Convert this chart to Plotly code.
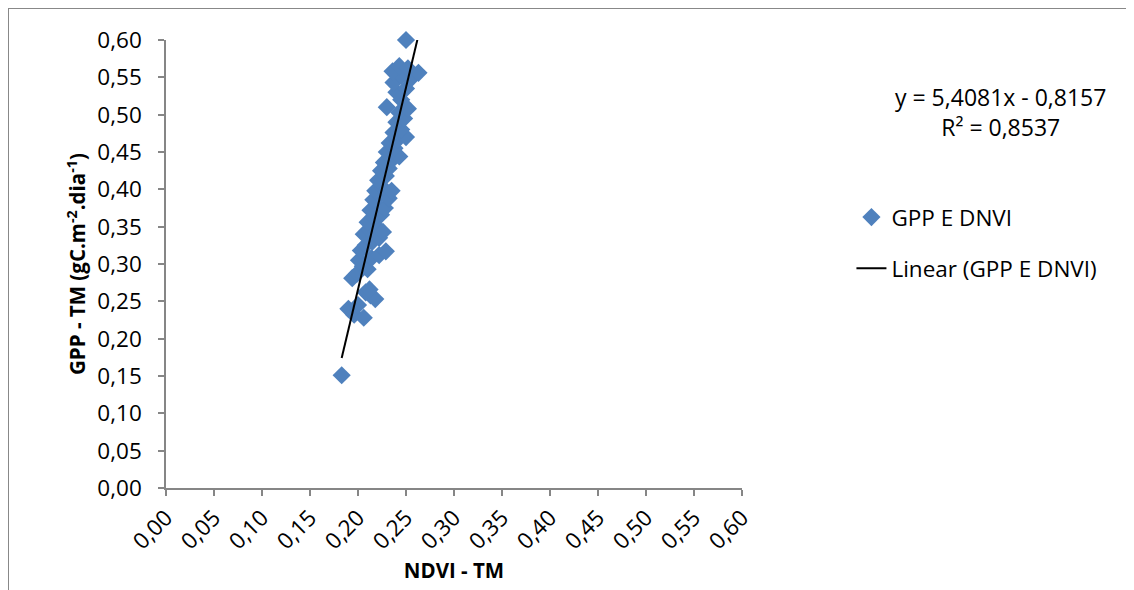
import plotly.graph_objects as go

# ---- data ----
ndvi = [0.183, 0.190, 0.196, 0.206, 0.200, 0.208, 0.213, 0.218, 0.212, 0.194,
        0.199, 0.205, 0.210, 0.201, 0.214, 0.222, 0.229, 0.203, 0.208, 0.215,
        0.222, 0.206, 0.212, 0.219, 0.226, 0.210, 0.217, 0.224, 0.213, 0.220,
        0.228, 0.216, 0.223, 0.232, 0.218, 0.226, 0.235, 0.221, 0.229, 0.224,
        0.232, 0.227, 0.236, 0.243, 0.230, 0.238, 0.233, 0.241, 0.250, 0.237,
        0.245, 0.240, 0.248, 0.243, 0.252, 0.230, 0.245, 0.240, 0.250, 0.237,
        0.255, 0.245, 0.236, 0.243, 0.252, 0.263, 0.250]
gpp = [0.151, 0.240, 0.232, 0.228, 0.245, 0.262, 0.258, 0.253, 0.266, 0.281,
       0.287, 0.297, 0.293, 0.305, 0.308, 0.312, 0.317, 0.318, 0.325, 0.330,
       0.335, 0.340, 0.346, 0.350, 0.343, 0.356, 0.362, 0.366, 0.372, 0.378,
       0.375, 0.386, 0.392, 0.388, 0.398, 0.402, 0.398, 0.412, 0.418, 0.425,
       0.428, 0.436, 0.440, 0.444, 0.450, 0.455, 0.462, 0.466, 0.470, 0.476,
       0.480, 0.490, 0.495, 0.503, 0.508, 0.510, 0.520, 0.530, 0.535, 0.543,
       0.548, 0.552, 0.558, 0.565, 0.562, 0.556, 0.600]
slope = 5.4081
intercept = -0.8157
r2 = 0.8537
tick_vals = [0.00, 0.05, 0.10, 0.15, 0.20, 0.25, 0.30, 0.35, 0.40, 0.45, 0.50, 0.55, 0.60]

series_name = "GPP E DNVI"
trend_name = "Linear (GPP E DNVI)"

# trendline over the data x range
x_line = [min(ndvi), max(ndvi)]
y_line = [slope * v + intercept for v in x_line]

FONT = "Open Sans"
fig = go.Figure()
fig.add_trace(go.Scatter(
    x=ndvi, y=gpp, mode="markers", name=series_name, legendgroup="a",
    marker=dict(symbol="diamond", size=14, color="#4F81BD",
                line=dict(width=0)),
    cliponaxis=False,
))
fig.add_trace(go.Scatter(
    x=x_line, y=y_line, mode="lines", name=trend_name, legendgroup="b",
    line=dict(color="black", width=2), cliponaxis=False,
))

axis_common = dict(
    range=[0, 0.6], tickvals=tick_vals, tickformat=".2f",
    showgrid=False, zeroline=False, showline=True,
    linecolor="#868686", linewidth=1.5,
    ticks="outside", ticklen=6, tickcolor="#868686", tickwidth=1.5,
    tickfont=dict(family=FONT, size=22.5, color="black"),
)

fig.update_layout(
    width=1126, height=582,
    margin=dict(l=158, r=392, t=32, b=102),
    paper_bgcolor="white", plot_bgcolor="white",
    separators=", ",
    font=dict(family=FONT, color="black"),
    xaxis=dict(**axis_common, tickangle=-45,
               title=dict(text="<b>NDVI - TM</b>", font=dict(family=FONT, size=20.5),
                          standoff=8)),
    yaxis=dict(**axis_common, ticklabelstandoff=12,
               title=dict(text="<b>GPP - TM (gC.m<sup>-2</sup>.dia<sup>-1</sup>)</b>",
                          font=dict(family=FONT, size=20.5), standoff=6)),
    showlegend=True,
    legend=dict(x=1.19, y=0.652, xanchor="left", yanchor="top",
                font=dict(family=FONT, size=22.5), tracegroupgap=19,
                bgcolor="rgba(0,0,0,0)"),
    annotations=[dict(
        xref="paper", yref="paper", x=1.449, y=0.84, xanchor="center", yanchor="middle",
        text=f"y = {slope:.4f}x - {abs(intercept):.4f}".replace(".", ",")
             + "<br>" + f"R² = {r2:.4f}".replace(".", ","),
        showarrow=False, align="center", font=dict(family=FONT, size=23),
    )],
    shapes=[dict(type="rect", xref="paper", yref="paper",
                 x0=-0.2743, y0=-0.6, x1=1.8, y1=1.0714,
                 line=dict(color="#888888", width=2), fillcolor="rgba(0,0,0,0)",
                 layer="below")],
)

fig.write_html("out.html")
